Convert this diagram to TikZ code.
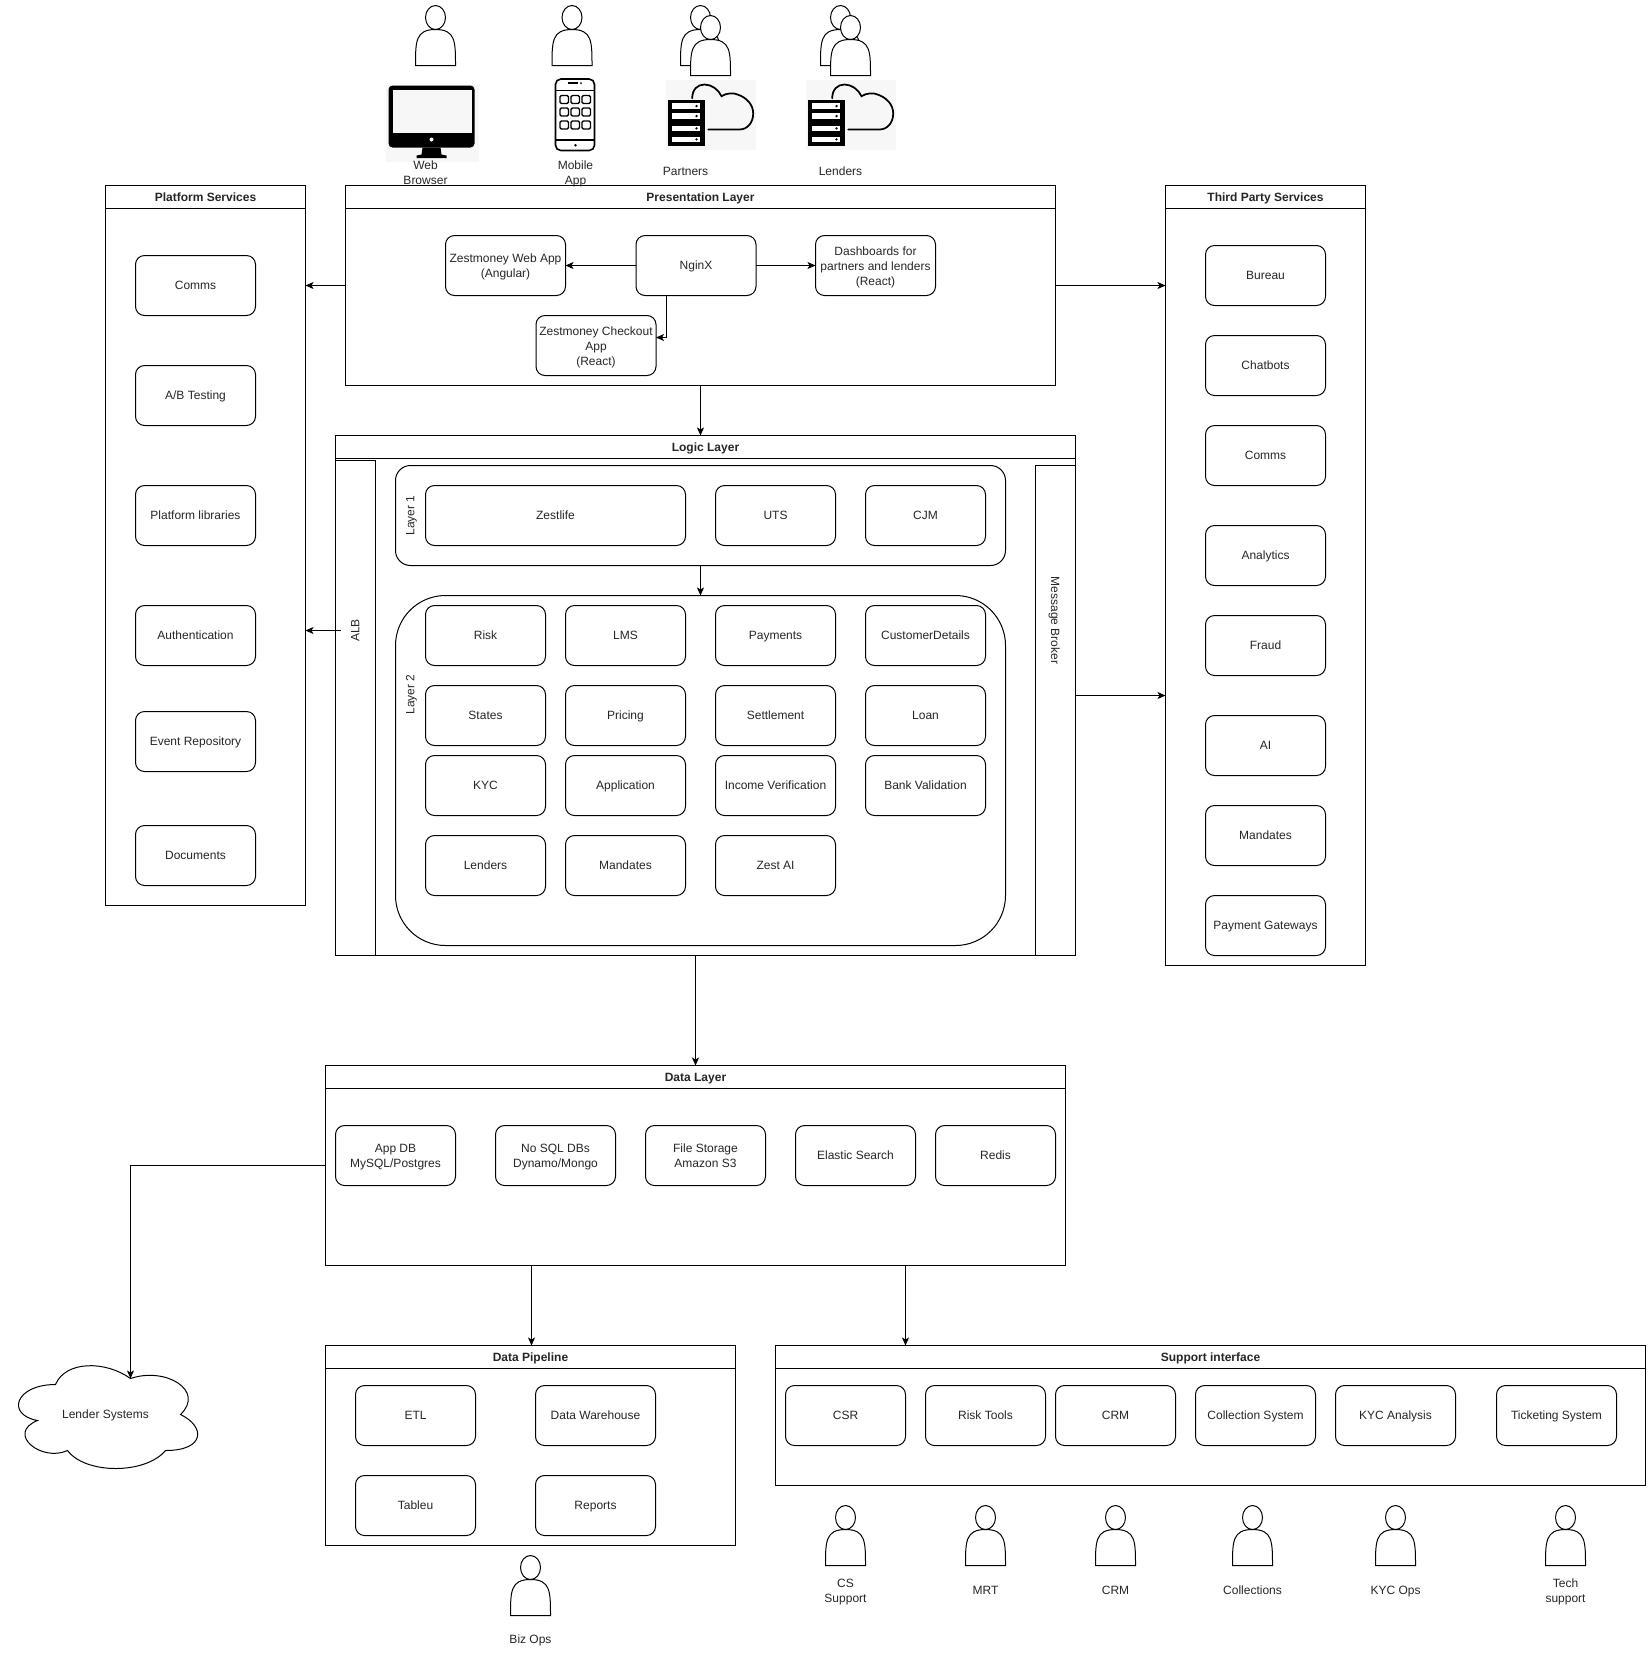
\documentclass[tikz,border=0pt]{standalone}
\usepackage{fontspec}
\setmainfont{Liberation Sans}
\usetikzlibrary{arrows.meta}

\definecolor{iconbg}{HTML}{F7F7F7}
\definecolor{inktext}{HTML}{262626}
\newcommand{\lnstrut}{\rule[-2pt]{0pt}{10.5pt}}
\newcommand{\lndown}{\rule{0pt}{9.2pt}}

\tikzset{
  every node/.append style={execute at begin node=\lnstrut, execute at end node=\lnstrut},
  svc/.style={draw, rounded corners=6.75pt, align=center, inner sep=0pt, outer sep=0pt,
    minimum width=90pt, minimum height=45pt},
  widesvc/.style={svc, minimum width=195pt},
  panel/.style 2 args={draw, inner sep=0pt, outer sep=0pt,
    minimum width=#1*0.75pt, minimum height=#2*0.75pt},
  paneltitle/.style={draw, anchor=north, inner sep=0pt, outer sep=0pt,
    minimum width=#1*0.75pt, minimum height=17.25pt, font=\fontsize{9}{11.25}\selectfont\bfseries},
  caption/.style={align=center, inner sep=0pt},
  person/.pic={
    \draw[fill=white] (0,60) .. controls (0,36) and (0,24) .. (20,24)
      .. controls (40,24) and (40,36) .. (40,60) -- cycle;
    \draw[fill=white] (20,12) ellipse [x radius=10, y radius=12];
  },
  srvcloud/.pic={
    \fill[iconbg] (0,-1) rectangle (90,69);
    \fill (2.7,19.3) rectangle (39.3,65);
    \foreach \y in {22.7,32.7,45,56}{
      \fill[white] (6,\y) rectangle (34.3,\y+5.7);
      \fill (31,\y+2.85) circle (1.3);
    }
    \draw[line width=1.3pt, line cap=round] (26.7,17.7) .. controls (26.7,9) and (32,4) .. (39,4)
      .. controls (46,4) and (53,9) .. (56,15.7)
      .. controls (61,12.5) and (68,12) .. (72,14)
      .. controls (81,17) and (87.7,24) .. (87.7,33)
      .. controls (87.7,42) and (82,49) .. (74,49) -- (42.7,49);
  }
}

\begin{document}
\begin{tikzpicture}[x=0.75pt, y=-0.75pt, >={Stealth[length=6pt, width=5.25pt, inset=1.5pt]},
    line width=0.75pt, font=\fontsize{9}{11.25}\selectfont, text=inktext]
\useasboundingbox (-0.5,-0.5) rectangle (1650.5,1660.5);

%% ===================== Users and devices =====================
\pic at (415,5) {person};
\pic at (551.5,5) {person};
\pic at (680,5) {person};
\pic at (690,15) {person};
\pic at (820,5) {person};
\pic at (830,15) {person};

% Monitor
\fill[iconbg] (385,84) rectangle (478,161);
\fill[rounded corners=3pt] (388,85) rectangle (474,147);
\fill[iconbg] (392,89) rectangle (471,132);
\fill[white] (431,139) circle (2);
\fill (422,147) -- (440,147) -- (441,154) -- (446,155) -- (446,157.5) -- (416,157.5) -- (416,155) -- (421,154) -- cycle;

% Phone
\draw[line width=1.2pt, rounded corners=4pt] (555,78.5) rectangle (594,150);
\draw[line width=1.2pt] (555,90) -- (594,90);
\draw[line width=1.2pt] (555,139.5) -- (594,139.5);
\draw[line width=1.1pt] (567.5,82.5) -- (577.5,82.5);
\fill (580.5,82.5) circle (1);
\fill (575,144.7) circle (1.3);
\foreach \x in {559.5,570.5,581.5}{
  \foreach \y in {95,107.5,120.5}{
    \draw[line width=1pt, rounded corners=1pt] (\x,\y) rectangle (\x+8.5,\y+8);
  }
}

\pic at (665,80) {srvcloud};
\pic at (805,80) {srvcloud};

\node[caption] (webcap) at (425,171.5) {\lndown Web\\Browser};
\node[caption] (mobcap) at (575,171.5) {\lndown Mobile\\App};
\node[caption] (partcap) at (685,170.5) {Partners};
\node[caption] (lendcap) at (840,170.5) {Lenders};

%% ===================== Platform Services =====================
\node[panel={200}{720}] (plat) at (205,545) {};
\node[paneltitle=200] (plattitle) at (plat.north) {Platform Services};
\foreach \name/\y/\txt in {pcomms/285/Comms, pab/395/{A/B Testing}, plib/515/Platform libraries,
    pauth/635/Authentication, pevent/741/Event Repository, pdocs/855/Documents}{
  \node[svc] (\name) at (195,\y) {\txt};
}

%% ===================== Presentation Layer =====================
\node[panel={710}{200}] (pres) at (700,285) {};
\node[paneltitle=710] (prestitle) at (pres.north) {Presentation Layer};
\node[svc] (webapp) at (505,265) {\lndown Zestmoney Web App\\(Angular)};
\node[svc] (nginx) at (695.5,265) {NginX};
\node[svc] (dash) at (875,265) {\rule{0pt}{9.7pt}Dashboards for\\partners and lenders\\(React)};
\node[svc] (checkout) at (595.5,345) {\rule{0pt}{9.7pt}Zestmoney Checkout\\App\\(React)};

\draw[->] (nginx) -- (webapp);
\draw[->] (nginx) -- (dash);
\coordinate (nginxout) at (665.5,295);
\coordinate (checkin) at (655.5,337);
\draw[->] (nginxout) |- (checkin);

%% ===================== Third Party Services =====================
\node[panel={200}{780}] (third) at (1265,575) {};
\node[paneltitle=200] (thirdtitle) at (third.north) {Third Party Services};
\foreach \name/\y/\txt in {tbureau/275/Bureau, tchat/365/Chatbots, tcomms/455/Comms, tana/555/Analytics,
    tfraud/645/Fraud, tai/745/AI, tmand/835/Mandates, tpay/925/Payment Gateways}{
  \node[svc] (\name) at (1265,\y) {\txt};
}

%% ===================== Logic Layer =====================
\node[panel={740}{520}] (logic) at (705,695) {};
\node[paneltitle=740] (logictitle) at (logic.north) {Logic Layer};
\node[panel={40}{495}] (alb) at (355,707.5) {};
\node[rotate=90, inner sep=0pt] (alblabel) at (354.5,630) {ALB};
\node[panel={40}{490}] (broker) at (1055,710) {};
\node[rotate=-90, inner sep=0pt] (brokerlabel) at (1055,620) {Message Broker};

% Layer 1
\node[panel={610}{100}, rounded corners=11.25pt] (layerone) at (700,515) {};
\node[rotate=90, inner sep=0pt] (layeronelabel) at (409.5,515) {Layer 1};
\node[widesvc] (zestlife) at (555,515) {Zestlife};
\node[svc] (uts) at (775,515) {UTS};
\node[svc] (cjm) at (925,515) {CJM};

% Layer 2
\node[panel={610}{350}, rounded corners=37.5pt] (layertwo) at (700,770) {};
\node[rotate=90, inner sep=0pt] (layertwolabel) at (409.5,694) {Layer 2};
\foreach \name/\x/\y/\txt in {risk/485/635/Risk, lms/625/635/LMS, payments/775/635/Payments, custdet/925/635/CustomerDetails,
    states/485/715/States, pricing/625/715/Pricing, settle/775/715/Settlement, loan/925/715/Loan,
    kyc/485/785/KYC, appl/625/785/Application, income/775/785/Income Verification, bankval/925/785/Bank Validation,
    llend/485/865/Lenders, lmand/625/865/Mandates, zestai/775/865/Zest AI}{
  \node[svc] (\name) at (\x,\y) {\txt};
}

%% ===================== Data Layer =====================
\node[panel={740}{200}] (data) at (695,1165) {};
\node[paneltitle=740] (datatitle) at (data.north) {Data Layer};
\foreach \name/\x/\txt in {appdb/395/{\lndown App DB\\MySQL/Postgres}, nosql/555/{\lndown No SQL DBs\\Dynamo/Mongo},
    files/705/{\lndown File Storage\\Amazon S3}, elastic/855/Elastic Search, redis/995/Redis}{
  \node[svc] (\name) at (\x,1155) {\txt};
}

%% ===================== Data Pipeline =====================
\node[panel={410}{200}] (pipeline) at (530,1445) {};
\node[paneltitle=410] (pipetitle) at (pipeline.north) {Data Pipeline};
\node[svc] (etl) at (415,1415) {ETL};
\node[svc] (warehouse) at (595,1415) {Data Warehouse};
\node[svc] (tableu) at (415,1505) {Tableu};
\node[svc] (reports) at (595,1505) {Reports};
\pic at (510,1555) {person};
\node[caption] (bizcap) at (530,1639) {Biz Ops};

%% ===================== Support interface =====================
\node[panel={870}{140}] (support) at (1210,1415) {};
\node[paneltitle=870] (supporttitle) at (support.north) {Support interface};
\foreach \name/\x/\txt in {csr/845/CSR, risktools/985/Risk Tools, crm/1115/CRM,
    collect/1255/Collection System, kycan/1395/KYC Analysis, ticket/1556/Ticketing System}{
  \node[svc] (\name) at (\x,1415) {\txt};
}
\foreach \name/\x/\txt in {cs/845/{\lndown CS\\Support}, mrt/985/MRT, crmp/1115/CRM,
    colp/1252/Collections, kycp/1395/KYC Ops, tech/1565/{\lndown Tech\\support}}{
  \pic at (\x-20,1505) {person};
  \node[caption] (\name cap) at (\x,1590) {\txt};
}

%% ===================== Lender Systems =====================
\draw (55,1384) .. controls (15,1384) and (5,1414) .. (37,1420)
  .. controls (5,1433) and (41,1462) .. (67,1450)
  .. controls (85,1474) and (145,1474) .. (165,1450)
  .. controls (205,1450) and (205,1426) .. (180,1414)
  .. controls (205,1390) and (165,1366) .. (130,1378)
  .. controls (105,1360) and (65,1360) .. (55,1384) -- cycle;
\coordinate (cloudtop) at (130,1378);
\node[caption] (lendersys) at (105,1414) {Lender Systems};

%% ===================== Connectors between layers =====================
\draw[->] (pres.west) -- (plat.east |- pres.west);
\draw[->] (pres.east) -- (third.west |- pres.east);
\draw[->] (pres.south) -- (pres.south |- logic.north);
\draw[->] (layerone.south) -- (layertwo.north);

\coordinate (albout) at (340,630);
\draw[->] (albout) -- (plat.east |- albout);
\coordinate (brokerout) at (1075,695);
\draw[->] (brokerout) -- (third.west |- brokerout);

\draw[->] (data.north |- logic.south) -- (data.north);
\draw[->] (data.west) -| (cloudtop);
\coordinate (datapipe) at (531,1265);
\draw[->] (datapipe) -- (datapipe |- pipeline.north);
\coordinate (dataout) at (905,1265);
\draw[->] (dataout) -- (dataout |- support.north);

\end{tikzpicture}
\end{document}
